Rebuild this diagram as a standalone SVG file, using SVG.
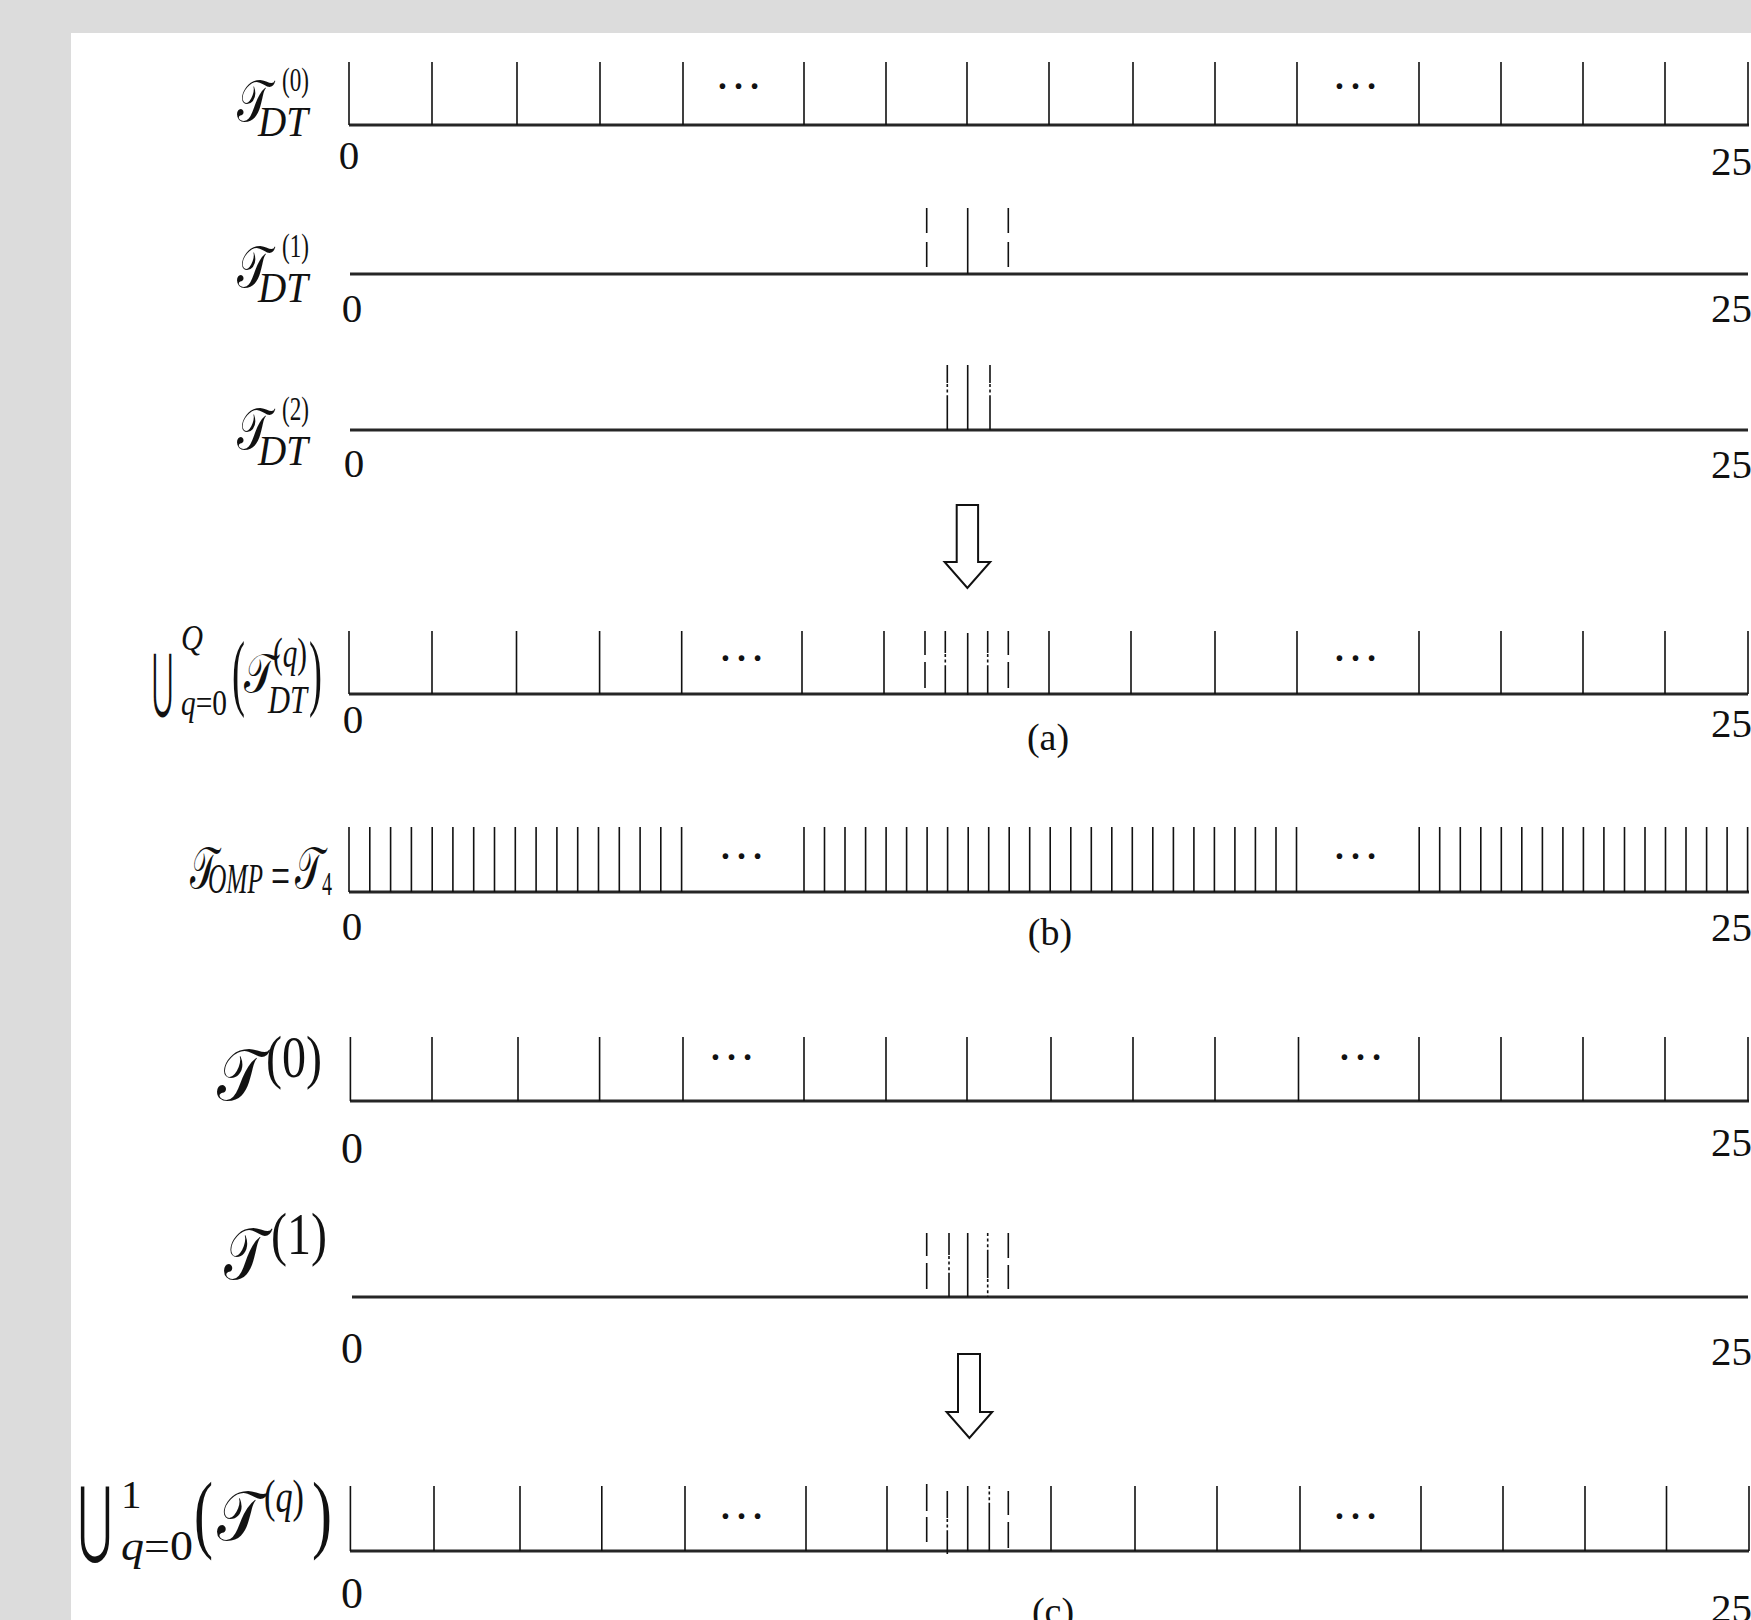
<svg xmlns="http://www.w3.org/2000/svg" width="1751" height="1620" viewBox="0 0 1751 1620">
<style>
.ax{stroke:#262626;stroke-width:3;fill:none}
.tk{stroke:#111;stroke-width:1.6;fill:none}
.dt{stroke:#111;stroke-width:1.6;fill:none;stroke-dasharray:3 2.6}
.num{font-family:"Liberation Serif","Times New Roman",serif;font-size:41px;fill:#111}
.numL{font-size:44px}
.cap{font-family:"Liberation Serif","Times New Roman",serif;font-size:38px;fill:#111;text-anchor:middle}
.dots{font-family:"Liberation Serif","Times New Roman",serif;font-size:48px;fill:#111;text-anchor:middle}
.ser{font-family:"Liberation Serif","Times New Roman",serif;fill:#111}
.it{font-family:"Liberation Serif","Times New Roman",serif;font-style:italic;fill:#111}
.cal{font-family:"DejaVu Serif","DejaVu Sans",serif;font-style:normal;fill:#111}
.op{font-family:"DejaVu Sans",sans-serif;fill:#111}
.arr{fill:#fff;stroke:#111;stroke-width:2;stroke-linejoin:miter}
</style>
<rect x="0" y="0" width="1751" height="1620" fill="#dcdcdc"/>
<rect x="71" y="33" width="1680" height="1587" fill="#ffffff"/>

<!-- Row 1: T_DT^(0) -->
<g id="row-tdt0">
<text class="cal" x="237" y="121" font-size="58" textLength="33" lengthAdjust="spacingAndGlyphs">𝒯</text>
<text class="ser" x="282" y="91" font-size="33" textLength="27" lengthAdjust="spacingAndGlyphs">(0)</text>
<text class="it" x="258" y="136" font-size="42" textLength="50" lengthAdjust="spacingAndGlyphs">DT</text>
<line class="ax" x1="349" y1="125" x2="1749" y2="125"/>
<path class="tk" d="M349 62V125M432 62V125M517 62V125M600 62V125M683 62V125M804 62V125M886 62V125M967 62V125M1049 62V125M1133 62V125M1215 62V125M1297 62V125M1419 62V125M1501 62V125M1583 62V125M1665 62V125M1748 62V125"/>
<text class="dots" x="738.5" y="89">…</text>
<text class="dots" x="1355.5" y="89">…</text>
<text class="num" x="349" y="169" text-anchor="middle">0</text>
<text class="num" x="1711" y="175">25</text>
</g>

<!-- Row 2: T_DT^(1) -->
<g id="row-tdt1">
<text class="cal" x="237" y="287" font-size="58" textLength="33" lengthAdjust="spacingAndGlyphs">𝒯</text>
<text class="ser" x="282" y="257" font-size="33" textLength="27" lengthAdjust="spacingAndGlyphs">(1)</text>
<text class="it" x="258" y="302" font-size="42" textLength="50" lengthAdjust="spacingAndGlyphs">DT</text>
<line class="ax" x1="350" y1="274" x2="1748" y2="274"/>
<path class="tk" d="M926.7 208V233M926.7 242V267M967.7 208V274M1008.3 208V233M1008.3 242V267"/>
<text class="num" x="352" y="322" text-anchor="middle">0</text>
<text class="num" x="1711" y="322">25</text>
</g>

<!-- Row 3: T_DT^(2) -->
<g id="row-tdt2">
<text class="cal" x="237" y="449" font-size="58" textLength="33" lengthAdjust="spacingAndGlyphs">𝒯</text>
<text class="ser" x="282" y="420" font-size="33" textLength="27" lengthAdjust="spacingAndGlyphs">(2)</text>
<text class="it" x="258" y="465" font-size="42" textLength="50" lengthAdjust="spacingAndGlyphs">DT</text>
<line class="ax" x1="350" y1="430" x2="1748" y2="430"/>
<path class="tk" d="M947.3 365V383M947.3 396V430M967.7 365V430M990 365V383M990 396V430"/>
<path class="dt" d="M947.3 384V396M990 384V396"/>
<text class="num" x="354" y="477" text-anchor="middle">0</text>
<text class="num" x="1711" y="478">25</text>
</g>

<!-- Row 4: union (a) -->
<g id="row-union-a">
<text class="op" x="152" y="704" font-size="70" textLength="21" lengthAdjust="spacingAndGlyphs">⋃</text>
<text class="it" x="181" y="650" font-size="36" textLength="22" lengthAdjust="spacingAndGlyphs">Q</text>
<text x="181" y="715" font-size="35" textLength="46" lengthAdjust="spacingAndGlyphs"><tspan class="it">q</tspan><tspan class="ser">=0</tspan></text>
<text class="ser" x="232" y="700" font-size="84" textLength="13" lengthAdjust="spacingAndGlyphs">(</text>
<text class="cal" x="244" y="692" font-size="54" textLength="31" lengthAdjust="spacingAndGlyphs">𝒯</text>
<text x="273" y="667" font-size="42" textLength="34" lengthAdjust="spacingAndGlyphs"><tspan class="ser">(</tspan><tspan class="it">q</tspan><tspan class="ser">)</tspan></text>
<text class="it" x="268" y="713" font-size="40" textLength="39" lengthAdjust="spacingAndGlyphs">DT</text>
<text class="ser" x="309" y="700" font-size="84" textLength="13" lengthAdjust="spacingAndGlyphs">)</text>
<line class="ax" x1="349" y1="694" x2="1748" y2="694"/>
<path class="tk" d="M349 631V694M432 631V694M516.5 631V694M599.6 631V694M681.7 631V694M802 631V694M884 631V694M925 631V655M925 662V688M945.3 631V653M945.3 668V694M967.7 633V695M987.7 631V653M987.7 668V694M1008.3 631V655M1008.3 662V688M1049 631V694M1131 631V694M1215 631V694M1297 631V694M1419 631V694M1501 631V694M1583 631V694M1665 631V694M1748 631V694"/>
<path class="dt" d="M945.3 654V668M987.7 654V668"/>
<text class="dots" x="741.5" y="661">…</text>
<text class="dots" x="1355.5" y="661">…</text>
<text class="num" x="353" y="733" text-anchor="middle">0</text>
<text class="num" x="1711" y="737">25</text>
<text class="cap" x="1048" y="750">(a)</text>
</g>

<!-- Row 5: T_OMP = T_4 (b) -->
<g id="row-omp-b">
<text class="cal" x="190" y="888" font-size="58" textLength="27" lengthAdjust="spacingAndGlyphs">𝒯</text>
<text class="it" x="208" y="893" font-size="42" textLength="55" lengthAdjust="spacingAndGlyphs">OMP</text>
<text class="ser" x="271" y="895" font-size="56" textLength="19" lengthAdjust="spacingAndGlyphs">=</text>
<text class="cal" x="295" y="888" font-size="58" textLength="28" lengthAdjust="spacingAndGlyphs">𝒯</text>
<text class="ser" x="322" y="895" font-size="34" textLength="10" lengthAdjust="spacingAndGlyphs">4</text>
<line class="ax" x1="349" y1="892" x2="1749" y2="892"/>
<path class="tk" d="M349 827V892M369.8 827V892M390.6 827V892M411.4 827V892M432.2 827V892M452.9 827V892M473.7 827V892M494.5 827V892M515.3 827V892M536.1 827V892M556.9 827V892M577.7 827V892M598.5 827V892M619.3 827V892M640.1 827V892M660.8 827V892M681.6 827V892
M804 827V892M824.5 827V892M845 827V892M865.6 827V892M886.1 827V892M906.6 827V892M927.1 827V892M947.6 827V892M968.2 827V892M988.7 827V892M1009.2 827V892M1029.7 827V892M1050.2 827V892M1070.8 827V892M1091.3 827V892M1111.8 827V892M1132.3 827V892M1152.8 827V892M1173.4 827V892M1193.9 827V892M1214.4 827V892M1234.9 827V892M1255.4 827V892M1276 827V892M1296.5 827V892
M1419.2 827V892M1439.7 827V892M1460.3 827V892M1480.8 827V892M1501.3 827V892M1521.8 827V892M1542.4 827V892M1562.9 827V892M1583.4 827V892M1603.9 827V892M1624.5 827V892M1645 827V892M1665.5 827V892M1686 827V892M1706.6 827V892M1727.1 827V892M1747.6 827V892"/>
<text class="dots" x="741.5" y="859">…</text>
<text class="dots" x="1355.5" y="859">…</text>
<text class="num" x="352" y="940" text-anchor="middle">0</text>
<text class="num" x="1711" y="941">25</text>
<text class="cap" x="1050" y="945">(b)</text>
</g>

<!-- Row 6: T^(0) -->
<g id="row-t0">
<text class="cal" x="217" y="1100" font-size="72" textLength="46" lengthAdjust="spacingAndGlyphs">𝒯</text>
<text class="ser" x="266" y="1077" font-size="60" textLength="56" lengthAdjust="spacingAndGlyphs">(0)</text>
<line class="ax" x1="350" y1="1101" x2="1749" y2="1101"/>
<path class="tk" d="M350.4 1037V1101M432 1037V1101M518 1037V1101M599.6 1037V1101M683 1037V1101M804 1037V1101M886 1037V1101M967 1037V1101M1051 1037V1101M1133 1037V1101M1215 1037V1101M1298.5 1037V1101M1419 1037V1101M1501 1037V1101M1583 1037V1101M1665 1037V1101M1748 1037V1101"/>
<text class="dots" x="731.5" y="1060">…</text>
<text class="dots" x="1360.5" y="1060">…</text>
<text class="num numL" x="352" y="1163" text-anchor="middle">0</text>
<text class="num" x="1711" y="1156">25</text>
</g>

<!-- Row 7: T^(1) -->
<g id="row-t1">
<text class="cal" x="224" y="1279" font-size="72" textLength="42" lengthAdjust="spacingAndGlyphs">𝒯</text>
<text class="ser" x="271" y="1254" font-size="60" textLength="56" lengthAdjust="spacingAndGlyphs">(1)</text>
<line class="ax" x1="352" y1="1297" x2="1748" y2="1297"/>
<path class="tk" d="M926.7 1233V1256M926.7 1263V1289M949 1233V1255M949 1273V1297M967.7 1233V1297M987.7 1251V1278M1008.3 1233V1258M1008.3 1265V1289"/>
<path class="dt" d="M949 1256V1273M987.7 1233V1251M987.7 1279V1297"/>
<text class="num numL" x="352" y="1363" text-anchor="middle">0</text>
<text class="num" x="1711" y="1365">25</text>
</g>

<!-- Row 8: union^1 (c) -->
<g id="row-union-c">
<text class="op" x="78" y="1547" font-size="84" textLength="34" lengthAdjust="spacingAndGlyphs">⋃</text>
<text class="ser" x="121" y="1508" font-size="41">1</text>
<text x="121" y="1560" font-size="43" textLength="72" lengthAdjust="spacingAndGlyphs"><tspan class="it">q</tspan><tspan class="ser">=0</tspan></text>
<text class="ser" x="194" y="1542" font-size="87" textLength="19" lengthAdjust="spacingAndGlyphs">(</text>
<text class="cal" x="217" y="1540" font-size="70" textLength="45" lengthAdjust="spacingAndGlyphs">𝒯</text>
<text x="264" y="1512" font-size="46" textLength="40" lengthAdjust="spacingAndGlyphs"><tspan class="ser">(</tspan><tspan class="it">q</tspan><tspan class="ser">)</tspan></text>
<text class="ser" x="312" y="1542" font-size="87" textLength="20" lengthAdjust="spacingAndGlyphs">)</text>
<line class="ax" x1="350" y1="1551" x2="1749" y2="1551"/>
<path class="tk" d="M350.4 1486V1551M434 1486V1551M520 1486V1551M601.8 1486V1551M685 1486V1551M806 1486V1551M887 1486V1551M926.7 1484V1511M926.7 1517V1542M947.3 1491V1518M947.3 1532V1554M967.7 1486V1551M989.3 1503V1551M1008.3 1491V1515M1008.3 1522V1548M1051 1486V1551M1135 1486V1551M1217 1486V1551M1300 1486V1551M1421 1486V1551M1503 1486V1551M1585 1486V1551M1666.5 1486V1551M1749 1486V1551"/>
<path class="dt" d="M947.3 1519V1532M989.3 1486V1503"/>
<text class="dots" x="741.5" y="1519">…</text>
<text class="dots" x="1355.5" y="1519">…</text>
<text class="num numL" x="352" y="1608" text-anchor="middle">0</text>
<text class="num" x="1711" y="1622">25</text>
<text class="cap" x="1053" y="1624">(c)</text>
</g>

<!-- Connectors: hollow down arrows -->
<g id="connectors">
<polygon class="arr" points="956.7,505 978.1,505 978.1,562 990.2,562 967.4,588 944.6,562 956.7,562"/>
<polygon class="arr" points="958,1354 980,1354 980,1412 992.2,1412 969.4,1438 946.6,1412 958,1412"/>
</g>
</svg>
